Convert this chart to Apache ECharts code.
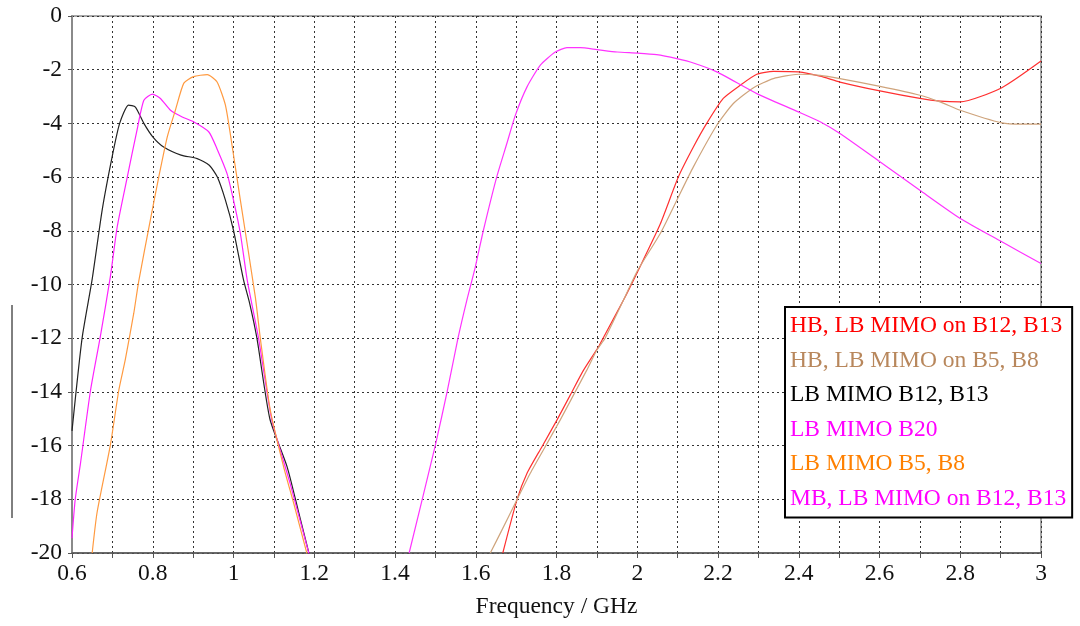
<!DOCTYPE html>
<html>
<head>
<meta charset="utf-8">
<script src="https://cdn.jsdelivr.net/npm/echarts@6/dist/echarts.min.js"></script>
<style>
  html, body { margin: 0; padding: 0; background: #fff; }
  #chart { width: 1080px; height: 626px; }
</style>
</head>
<body>
<div id="chart"></div>
<script>
// tick labels
var xTicks = [0.6, 0.8, 1, 1.2, 1.4, 1.6, 1.8, 2, 2.2, 2.4, 2.6, 2.8, 3]
var yTicks = [0, -2, -4, -6, -8, -10, -12, -14, -16, -18, -20]

var legendNames = ['HB, LB MIMO on B12, B13', 'HB, LB MIMO on B5, B8', 'LB MIMO B12, B13',
  'LB MIMO B20', 'LB MIMO B5, B8', 'MB, LB MIMO on B12, B13']

// HB, LB MIMO on B12, B13 (red)
var hbB12Freq = [1.667, 1.702, 1.727, 1.764, 1.801, 1.834, 1.867, 1.904, 1.916, 1.966, 2.0, 2.057, 2.102, 2.139,
  2.172, 2.213, 2.255, 2.296, 2.337, 2.399, 2.453, 2.502, 2.601, 2.7, 2.75, 2.8, 2.903, 3.0]
var hbB12Val = [-20, -18.02, -17.03, -16.04, -15.05, -14.12, -13.19, -12.32, -11.98, -10.58, -9.55, -7.75, -5.99, -4.88,
  -4.0, -3.07, -2.58, -2.17, -2.06, -2.08, -2.24, -2.46, -2.79, -3.07, -3.17, -3.2, -2.67, -1.68]

// HB, LB MIMO on B5, B8 (tan)
var hbB5Freq = [1.636, 1.661, 1.702, 1.735, 1.772, 1.809, 1.842, 1.875, 1.9, 1.921, 1.966, 2.0, 2.057, 2.098, 2.139,
  2.197, 2.238, 2.288, 2.337, 2.399, 2.453, 2.502, 2.601, 2.7, 2.75, 2.8, 2.903, 2.95, 3.0]
var hbB5Val = [-20, -19.26, -18.02, -17.03, -16.04, -15.05, -14.12, -13.19, -12.44, -11.98, -10.58, -9.5, -8.1, -6.86, -5.62,
  -4.07, -3.26, -2.67, -2.33, -2.17, -2.21, -2.33, -2.62, -2.95, -3.2, -3.51, -3.98, -4.03, -4.03]

// LB MIMO B12, B13 (black)
var lbB12Freq = [0.6, 0.625, 0.65, 0.675, 0.7, 0.718, 0.74, 0.757, 0.778, 0.8, 0.827, 0.87, 0.91, 0.94, 0.96, 0.98,
  1.0, 1.025, 1.04, 1.058, 1.09, 1.133, 1.16, 1.19]
var lbB12Val = [-15.45, -12.0, -9.8, -7.2, -5.2, -4.0, -3.32, -3.39, -4.0, -4.5, -4.88, -5.18, -5.31, -5.56, -6.0, -6.86,
  -7.98, -9.84, -10.7, -12.0, -15.0, -16.8, -18.4, -20.2]

// LB MIMO B20 (magenta, low band)
var lbB20Freq = [0.6, 0.608, 0.621, 0.646, 0.67, 0.695, 0.712, 0.737, 0.761, 0.778, 0.799, 0.819, 0.844, 0.873, 0.901,
  0.939, 0.959, 0.984, 1.0, 1.017, 1.034, 1.062, 1.095, 1.14, 1.19]
var lbB20Val = [-19.45, -18.0, -16.66, -13.93, -11.95, -9.71, -7.85, -5.99, -4.25, -3.14, -2.91, -3.07, -3.51, -3.76, -3.94,
  -4.32, -4.94, -5.87, -6.86, -8.1, -9.84, -12.0, -15.05, -17.4, -20.2]

// LB MIMO B5, B8 (orange)
var lbB5Freq = [0.65, 0.662, 0.695, 0.716, 0.732, 0.753, 0.765, 0.794, 0.815, 0.836, 0.856, 0.877, 0.901, 0.935, 0.959,
  0.98, 0.997, 1.017, 1.054, 1.067, 1.091, 1.124, 1.15, 1.185]
var lbB5Val = [-20, -18.5, -15.98, -13.93, -12.8, -11.07, -9.9, -7.6, -5.99, -4.5, -3.51, -2.5, -2.26, -2.18, -2.45,
  -3.32, -4.88, -6.86, -10.46, -12.07, -14.67, -16.78, -18.2, -20.2]

// MB, LB MIMO on B12, B13 (magenta, mid band)
var mbFreq = [1.435, 1.5, 1.529, 1.556, 1.578, 1.599, 1.619, 1.652, 1.677, 1.698, 1.727, 1.76, 1.797, 1.826, 1.859,
  1.9, 1.95, 2.0, 2.048, 2.098, 2.139, 2.197, 2.296, 2.399, 2.453, 2.502, 2.601, 2.7, 2.8, 2.903, 3.0]
var mbVal = [-20, -15.98, -14.0, -12.0, -10.58, -9.34, -7.98, -5.99, -4.75, -3.7, -2.64, -1.83, -1.34, -1.18, -1.18,
  -1.25, -1.34, -1.38, -1.44, -1.59, -1.75, -2.08, -2.89, -3.57, -3.94, -4.38, -5.43, -6.49, -7.54, -8.41, -9.22]

var lineColors = ['#ff3030', '#cfa47c', '#222222', '#ff22ff', '#ff9a40', '#ff33ff']
var textColors = ['#ff0000', '#b8875c', '#000000', '#ff00ff', '#ff8000', '#ff00ff']

function pairs(xs, ys) {
  return xs.map(function (x, i) { return [x, ys[i]] })
}

var seriesData = [
  pairs(hbB12Freq, hbB12Val),
  pairs(hbB5Freq, hbB5Val),
  pairs(lbB12Freq, lbB12Val),
  pairs(lbB20Freq, lbB20Val),
  pairs(lbB5Freq, lbB5Val),
  pairs(mbFreq, mbVal)
]

var serif = '"Liberation Serif", "DejaVu Serif", serif'
var fontSize = 23.5

var option = {
  animation: false,
  backgroundColor: '#fff',
  grid: {
    left: 72, top: 16, right: 39, bottom: 73,
    show: true,
    borderColor: '#8a8a8a',
    borderWidth: 1.5
  },
  legend: {
    left: 785,
    top: 307,
    orient: 'vertical',
    icon: 'none',
    itemWidth: 0,
    itemHeight: 14,
    itemGap: 10.5,
    selectedMode: false,
    padding: [7, 6, 7, 0],
    backgroundColor: '#fff',
    borderColor: '#000',
    borderWidth: 2,
    borderRadius: 0,
    textStyle: { fontFamily: serif, fontSize: fontSize, lineHeight: 24 },
    data: legendNames.map(function (n, i) {
      return { name: n, textStyle: { color: textColors[i] } }
    })
  },
  xAxis: {
    type: 'value',
    min: 0.6,
    max: 3,
    interval: 0.1,
    name: 'Frequency / GHz',
    nameLocation: 'middle',
    nameGap: 42,
    nameTextStyle: { fontFamily: serif, fontSize: fontSize, color: '#111' },
    axisLine: { onZero: false, lineStyle: { color: '#555', width: 1.5 } },
    axisTick: { show: true, length: 5, lineStyle: { color: '#555' } },
    axisLabel: {
      margin: 9,
      fontFamily: serif,
      fontSize: fontSize,
      color: '#111',
      formatter: function (v) {
        var r = Math.round(v * 10) / 10
        return xTicks.indexOf(r) >= 0 ? String(r) : ''
      }
    },
    splitLine: { show: true, lineStyle: { color: '#333', type: [2, 3], width: 1 } }
  },
  yAxis: {
    type: 'value',
    min: -20,
    max: 0,
    interval: 2,
    axisLine: { show: true, onZero: false, lineStyle: { color: '#8a8a8a', width: 2 } },
    axisTick: { show: true, length: 4, lineStyle: { color: '#555' } },
    axisLabel: {
      margin: 10,
      fontFamily: serif,
      fontSize: fontSize,
      color: '#111',
      formatter: function (v) {
        return yTicks.indexOf(v) >= 0 ? String(v) : ''
      }
    },
    splitLine: { show: true, lineStyle: { color: '#333', type: [2, 3], width: 1 } }
  },
  graphic: [{
    type: 'line',
    shape: { x1: 12, y1: 305, x2: 12, y2: 518 },
    style: { stroke: '#000', lineWidth: 1 }
  }],
  series: legendNames.map(function (n, i) {
    return {
      name: n,
      type: 'line',
      data: seriesData[i],
      showSymbol: false,
      smooth: 0.2,
      clip: true,
      lineStyle: { color: lineColors[i], width: 1.2 },
      itemStyle: { color: lineColors[i] }
    }
  })
}

var myChart = echarts.init(document.getElementById('chart'))
myChart.setOption(option)
</script>
</body>
</html>
